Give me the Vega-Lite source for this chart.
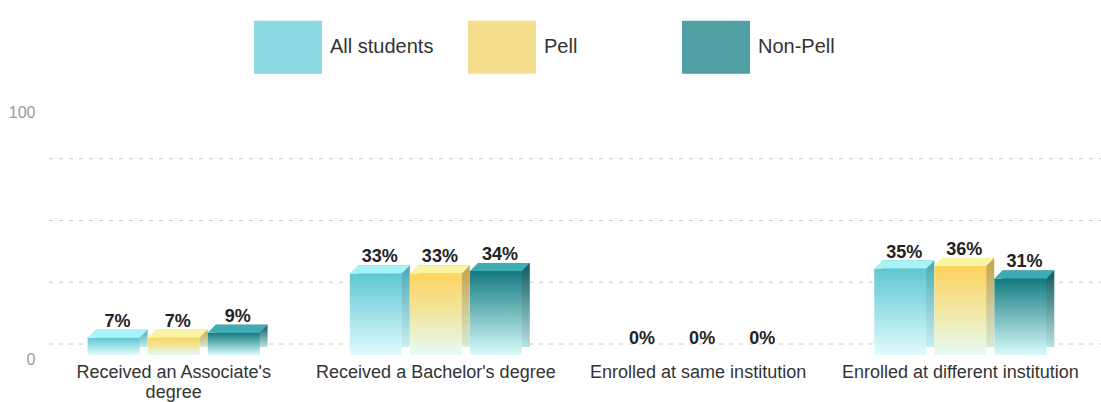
{
  "$schema": "https://vega.github.io/schema/vega-lite/v6.json",
  "width": 1048,
  "height": 247,
  "autosize": {"type": "none"},
  "padding": {"left": 43, "top": 108, "right": 10, "bottom": 47},
  "background": "white",
  "config": {"font": "Liberation Sans", "view": {"stroke": null}},
  "datasets": {
    "bars": [
      {"category": "Received an Associate's degree", "series": "All students", "value": 7, "label": "7%"},
      {"category": "Received an Associate's degree", "series": "Pell", "value": 7, "label": "7%"},
      {"category": "Received an Associate's degree", "series": "Non-Pell", "value": 9, "label": "9%"},
      {"category": "Received a Bachelor's degree", "series": "All students", "value": 33, "label": "33%"},
      {"category": "Received a Bachelor's degree", "series": "Pell", "value": 33, "label": "33%"},
      {"category": "Received a Bachelor's degree", "series": "Non-Pell", "value": 34, "label": "34%"},
      {"category": "Enrolled at same institution", "series": "All students", "value": 0, "label": "0%"},
      {"category": "Enrolled at same institution", "series": "Pell", "value": 0, "label": "0%"},
      {"category": "Enrolled at same institution", "series": "Non-Pell", "value": 0, "label": "0%"},
      {"category": "Enrolled at different institution", "series": "All students", "value": 35, "label": "35%"},
      {"category": "Enrolled at different institution", "series": "Pell", "value": 36, "label": "36%"},
      {"category": "Enrolled at different institution", "series": "Non-Pell", "value": 31, "label": "31%"}
    ],
    "grid": [{"value": 0}, {"value": 25}, {"value": 50}, {"value": 75}]
  },
  "encoding": {
    "x": {"field": "category", "type": "nominal", "sort": null,
      "scale": {"domain": ["Received an Associate's degree", "Received a Bachelor's degree", "Enrolled at same institution", "Enrolled at different institution"], "paddingInner": 0.3435, "paddingOuter": 0.17},
      "axis": {"title": null, "labelAngle": 0, "domain": false, "ticks": false, "labelFontSize": 18, "labelColor": "#333333", "labelPadding": 8, "labelLimit": 400, "labelLineHeight": 20,
        "labelExpr": "datum.label == \"Received an Associate's degree\" ? [\"Received an Associate's\", \"degree\"] : datum.label"}},
    "xOffset": {"field": "series", "type": "nominal", "sort": null, "scale": {"type": "band", "domain": ["All students", "Pell", "Non-Pell"], "paddingInner": 0.1333, "paddingOuter": 0}},
    "y": {"field": "value", "type": "quantitative", "scale": {"domain": [0, 100], "nice": false},
      "axis": {"title": null, "values": [0, 100], "domain": false, "ticks": false, "grid": false, "labelFontSize": 16, "labelColor": "#9a9a9a", "labelPadding": 8, "labelOffset": 4}}
  },
  "layer": [
    {
      "data": {"name": "grid"},
      "mark": {"type": "rule", "stroke": "#c8c8c8", "strokeWidth": 1, "strokeDash": [4, 6], "xOffset": 12, "yOffset": -11},
      "encoding": {"x": null, "xOffset": null}
    },
    {
      "data": {"name": "bars"},
      "transform": [{"filter": "datum.series == 'All students' && datum.value > 0"}],
      "mark": {"type": "bar", "yOffset": -8, "y2Offset": -4,
        "fill": {"gradient": "linear", "x1": 0, "y1": 0, "x2": 0, "y2": 1, "stops": [{"offset": 0, "color": "#4aaab2"}, {"offset": 1, "color": "#c6edf0"}]}},
      "encoding": {"xOffset": {"field": "series", "type": "nominal", "scale": {"type": "band", "domain": ["All students", "Pell", "Non-Pell"], "range": [8, 180], "paddingInner": 0.1333, "paddingOuter": 0}}}
    },
    {
      "data": {"name": "bars"},
      "transform": [{"filter": "datum.series == 'Pell' && datum.value > 0"}],
      "mark": {"type": "bar", "yOffset": -8, "y2Offset": -4,
        "fill": {"gradient": "linear", "x1": 0, "y1": 0, "x2": 0, "y2": 1, "stops": [{"offset": 0, "color": "#c4a24a"}, {"offset": 1, "color": "#d6ead6"}]}},
      "encoding": {"xOffset": {"field": "series", "type": "nominal", "scale": {"type": "band", "domain": ["All students", "Pell", "Non-Pell"], "range": [8, 180], "paddingInner": 0.1333, "paddingOuter": 0}}}
    },
    {
      "data": {"name": "bars"},
      "transform": [{"filter": "datum.series == 'Non-Pell' && datum.value > 0"}],
      "mark": {"type": "bar", "yOffset": -8, "y2Offset": -4,
        "fill": {"gradient": "linear", "x1": 0, "y1": 0, "x2": 0, "y2": 1, "stops": [{"offset": 0, "color": "#0d5a5e"}, {"offset": 1, "color": "#b7e2e3"}]}},
      "encoding": {"xOffset": {"field": "series", "type": "nominal", "scale": {"type": "band", "domain": ["All students", "Pell", "Non-Pell"], "range": [8, 180], "paddingInner": 0.1333, "paddingOuter": 0}}}
    },
    {
      "data": {"name": "bars"},
      "transform": [{"filter": "datum.series == 'All students'"}],
      "mark": {"type": "bar",
        "fill": {"gradient": "linear", "x1": 0, "y1": 0, "x2": 0, "y2": 1, "stops": [{"offset": 0, "color": "#5ec7d2"}, {"offset": 1, "color": "#e0fbfd"}]}}
    },
    {
      "data": {"name": "bars"},
      "transform": [{"filter": "datum.series == 'Pell'"}],
      "mark": {"type": "bar",
        "fill": {"gradient": "linear", "x1": 0, "y1": 0, "x2": 0, "y2": 1, "stops": [{"offset": 0, "color": "#fdd35c"}, {"offset": 0.5, "color": "#f1e6a4"}, {"offset": 1, "color": "#e6fbf5"}]}}
    },
    {
      "data": {"name": "bars"},
      "transform": [{"filter": "datum.series == 'Non-Pell'"}],
      "mark": {"type": "bar",
        "fill": {"gradient": "linear", "x1": 0, "y1": 0, "x2": 0, "y2": 1, "stops": [{"offset": 0, "color": "#137a80"}, {"offset": 1, "color": "#d9fbfb"}]}}
    },
    {
      "data": {"name": "bars"},
      "transform": [{"filter": "datum.series == 'All students' && datum.value > 0"}],
      "mark": {"type": "point", "shape": "M-0.867,0.133L0.867,0.133L1.133,-0.133L-0.6,-0.133Z", "size": 3600, "filled": true, "opacity": 1, "strokeWidth": 0, "yOffset": -4, "fill": "#a8f3f8"}
    },
    {
      "data": {"name": "bars"},
      "transform": [{"filter": "datum.series == 'Pell' && datum.value > 0"}],
      "mark": {"type": "point", "shape": "M-0.867,0.133L0.867,0.133L1.133,-0.133L-0.6,-0.133Z", "size": 3600, "filled": true, "opacity": 1, "strokeWidth": 0, "yOffset": -4, "fill": "#f7f4a4"}
    },
    {
      "data": {"name": "bars"},
      "transform": [{"filter": "datum.series == 'Non-Pell' && datum.value > 0"}],
      "mark": {"type": "point", "shape": "M-0.867,0.133L0.867,0.133L1.133,-0.133L-0.6,-0.133Z", "size": 3600, "filled": true, "opacity": 1, "strokeWidth": 0, "yOffset": -4, "fill": "#3eadb3"}
    },
    {
      "data": {"name": "bars"},
      "mark": {"type": "point", "filled": true, "opacity": 0, "size": 1},
      "encoding": {
        "color": {"field": "series", "type": "nominal",
          "scale": {"domain": ["All students", "Pell", "Non-Pell"], "range": ["#8ad9e1", "#f4dd8c", "#4f9fa3"]},
          "legend": {"orient": "none", "legendX": 211, "legendY": -95, "direction": "horizontal", "title": null,
            "symbolType": "M-1,-0.78L1,-0.78L1,0.78L-1,0.78Z", "symbolSize": 4624, "symbolStrokeWidth": 0, "symbolOpacity": 1,
            "labelFontSize": 20, "labelColor": "#333333", "labelOffset": 8, "columnPadding": 34, "gridAlign": "all", "padding": 0, "labelLimit": 300}}
      }
    },
    {
      "data": {"name": "bars"},
      "mark": {"type": "text", "fontWeight": "bold", "fontSize": 18, "color": "#222222", "baseline": "alphabetic", "align": "center", "dx": 4, "yOffset": -11},
      "encoding": {
        "text": {"field": "label", "type": "nominal"}
      }
    }
  ],
  "resolve": {"scale": {"xOffset": "independent"}}
}
